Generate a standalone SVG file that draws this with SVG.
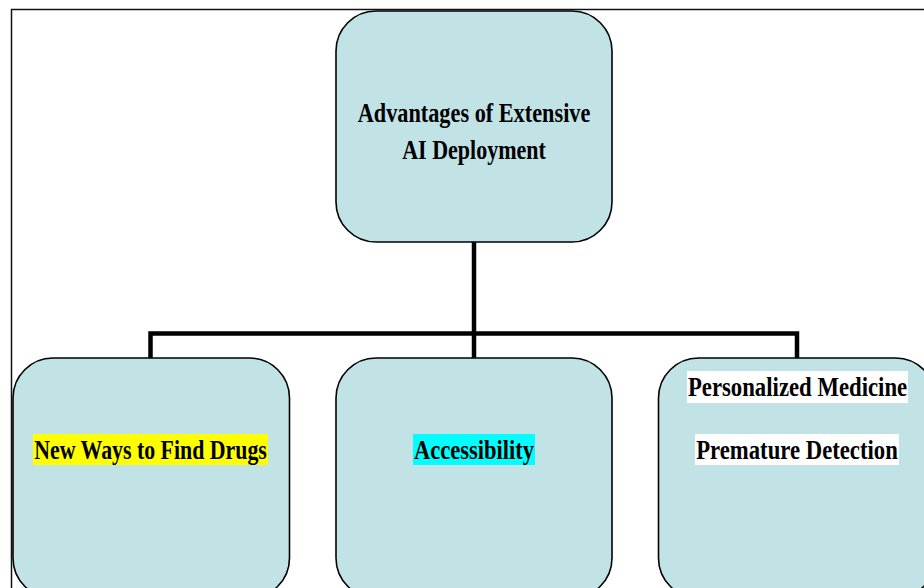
<svg xmlns="http://www.w3.org/2000/svg" width="924" height="588" viewBox="0 0 924 588">
<style>
.node{fill:#c1e3e6;stroke:#000;stroke-width:1.6}
.lbl{font-family:"Liberation Serif","Times New Roman",serif;font-weight:bold;font-size:27px;fill:#000}
.conn{stroke:#000;stroke-width:4.5;fill:none;stroke-linecap:butt;stroke-linejoin:miter}
</style>
<rect x="0" y="0" width="924" height="588" fill="#fff"/>
<rect x="11.5" y="9.5" width="930" height="600" fill="none" stroke="#111" stroke-width="1.5"/>
<g id="connectors">
<path class="conn" d="M474 242 V358"/>
<path class="conn" d="M150.5 358 V333.5 H797 V358"/>
</g>
<g id="root">
<rect class="node" x="336" y="11" width="276" height="231" rx="40" ry="40"/>
<text class="lbl" transform="translate(474 122) scale(0.84 1)" text-anchor="middle" textLength="277" lengthAdjust="spacingAndGlyphs">Advantages of Extensive</text>
<text class="lbl" transform="translate(474 159) scale(0.84 1)" text-anchor="middle" textLength="171" lengthAdjust="spacingAndGlyphs">AI Deployment</text>
</g>
<g id="drugs">
<rect class="node" x="13" y="358" width="276.5" height="240" rx="40" ry="40"/>
<rect x="33" y="434" width="235" height="31" fill="#ffff00"/>
<text class="lbl" transform="translate(150.5 459) scale(0.84 1)" text-anchor="middle" textLength="277" lengthAdjust="spacingAndGlyphs">New Ways to Find Drugs</text>
</g>
<g id="access">
<rect class="node" x="336" y="358" width="276" height="240" rx="40" ry="40"/>
<rect x="413" y="434" width="122" height="31" fill="#00ffff"/>
<text class="lbl" transform="translate(474 459) scale(0.84 1)" text-anchor="middle" textLength="143" lengthAdjust="spacingAndGlyphs">Accessibility</text>
</g>
<g id="personal">
<rect class="node" x="658.5" y="358" width="277" height="240" rx="40" ry="40"/>
<rect x="687" y="371" width="221" height="32" fill="#ffffff"/>
<text class="lbl" transform="translate(797.5 396) scale(0.84 1)" text-anchor="middle" textLength="261" lengthAdjust="spacingAndGlyphs">Personalized Medicine</text>
<rect x="695" y="434" width="204" height="31" fill="#ffffff"/>
<text class="lbl" transform="translate(797 459) scale(0.84 1)" text-anchor="middle" textLength="240" lengthAdjust="spacingAndGlyphs">Premature Detection</text>
</g>
</svg>
